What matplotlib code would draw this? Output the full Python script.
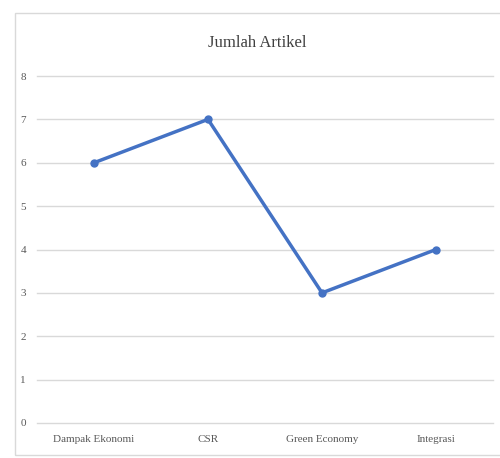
import matplotlib.pyplot as plt
from matplotlib.patches import Rectangle

categories = ["Dampak Ekonomi", "CSR", "Green Economy", "Integrasi"]
jumlah_artikel = [6, 7, 3, 4]
y_ticks = [0, 1, 2, 3, 4, 5, 6, 7, 8]

plt.rcParams['font.family'] = ['Liberation Serif', 'DejaVu Serif']

fig = plt.figure(figsize=(5, 4.58), dpi=100)
fig.patches.append(Rectangle((15 / 500, 3 / 458), 1.0, 442 / 458, transform=fig.transFigure,
                             fill=False, edgecolor="#d9d9d9", linewidth=1))

ax = fig.add_axes([37 / 500, 1 - 423 / 458, 456 / 500, (423 - 76) / 458])
x = list(range(len(categories)))
ax.plot(x, jumlah_artikel, color="#4472C4", linewidth=2.5, marker='o', markersize=5)

ax.set_xlim(-0.5, len(categories) - 0.5)
ax.set_ylim(0, 8)
ax.set_yticks(y_ticks)
ax.set_xticks(x)
ax.set_xticklabels(categories)
ax.grid(axis='y', color="#d9d9d9", linewidth=1)
for gl in ax.get_ygridlines():
    gl.set_clip_on(False)
ax.set_axisbelow(True)
for s in ax.spines.values():
    s.set_visible(False)
ax.tick_params(length=0, labelsize=8, colors="#595959", pad=9)
ax.tick_params(axis='y', pad=8)

fig.text(0.5 + 15 / 1000, 1 - 43 / 458, "Jumlah Artikel", ha='center', va='center',
         fontsize=12, color="#404040")

fig.savefig("out.png", dpi=100)
